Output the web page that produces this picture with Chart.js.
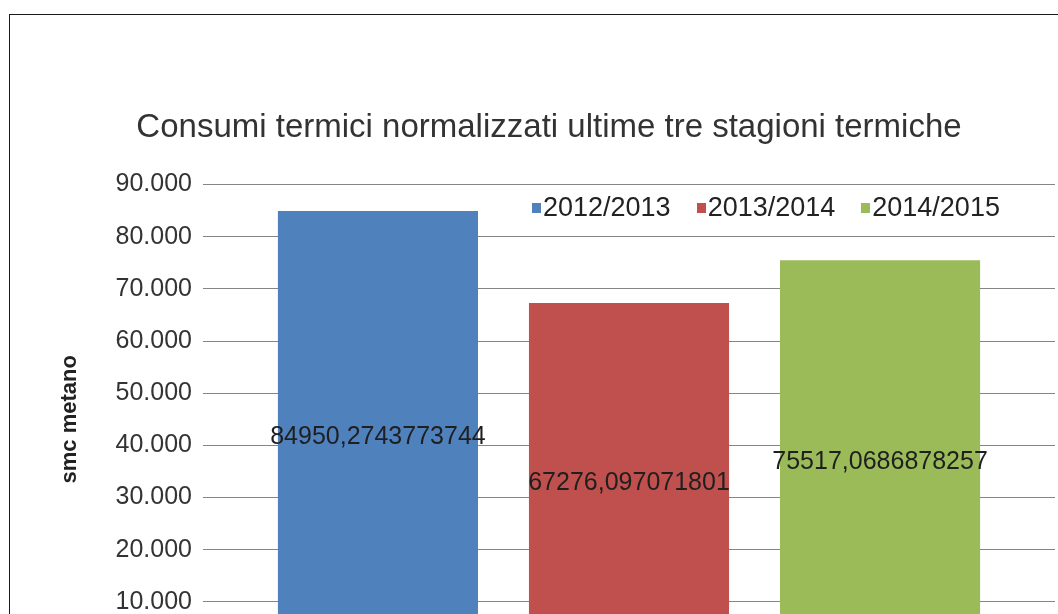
<!DOCTYPE html>
<html lang="it">
<head>
<meta charset="utf-8">
<title>Consumi termici normalizzati</title>
<script src="https://cdn.jsdelivr.net/npm/chart.js@4.4.1/dist/chart.umd.min.js"></script>
<style>
  html, body {
    margin: 0; padding: 0; background: #fff;
    width: 1058px; height: 614px; overflow: hidden;
  }
  /* outer frame, only top and left edges are visible */
  #frame {
    position: absolute; left: 9px; top: 14px;
    width: 1200px; height: 800px;
    border: 1px solid #1a1a1a;
  }
  /* chart is bigger than the window, the bottom and right get cropped */
  #wrap {
    position: absolute; left: 0; top: 0;
    width: 1098px; height: 680px;
  }
  #legend {
    position: absolute; left: 532px; top: 192px;
    display: flex; align-items: center;
    font: 27px 'Liberation Sans', Arial, sans-serif;
    color: #222;
  }
  #legend .item { display: flex; align-items: center; margin-right: 26px; }
  #legend .box  { width: 9px; height: 10px; margin-right: 2px; }
</style>
</head>
<body>
<div id="frame"></div>
<div id="wrap"><canvas id="chart"></canvas></div>
<div id="legend"></div>

<script>
// ── DATA ──
const CATEGORIES = [''];
const SEASONS    = ['2012/2013', '2013/2014', '2014/2015'];
const CONSUMI    = [84950.2743773744, 67276.097071801, 75517.0686878257];
const COLORS     = ['#4F81BD', '#C0504D', '#9BBB59'];
const Y_MIN  = 0;
const Y_MAX  = 90000;
const Y_STEP = 10000;

const FONT = "'Liberation Sans', Arial, sans-serif";
Chart.defaults.font.family = FONT;
Chart.defaults.color       = '#333';

// 90000 -> "90.000"
function fmtThousands(v) {
  return String(v).replace(/\B(?=(\d{3})+(?!\d))/g, '.');
}
// 84950.27 -> "84950,27"
function fmtDecimal(v) {
  return String(v).replace('.', ',');
}

// ── HELPER: value labels centred in each bar ──
const barLabels = {
  id: 'barLabels',
  afterDatasetsDraw(chart) {
    const ctx = chart.ctx;
    ctx.save();
    ctx.font         = '25px ' + FONT;
    ctx.fillStyle    = '#1f1f1f';
    ctx.textAlign    = 'center';
    ctx.textBaseline = 'middle';
    chart.data.datasets.forEach((ds, i) => {
      chart.getDatasetMeta(i).data.forEach((bar, j) => {
        ctx.fillText(fmtDecimal(ds.data[j]), bar.x, (bar.y + bar.base) / 2 + 5);
      });
    });
    ctx.restore();
  }
};

const datasets = SEASONS.map((name, i) => ({
  label:           name,
  data:            [CONSUMI[i]],
  backgroundColor: COLORS[i],
  borderWidth:     0,
  categoryPercentage: 0.884,
  barPercentage:      0.797,
}));

new Chart(document.getElementById('chart'), {
  type: 'bar',
  data: { labels: CATEGORIES, datasets },
  plugins: [barLabels],
  options: {
    responsive:          true,
    maintainAspectRatio: false,
    animation:           false,
    layout: { padding: { left: 43, right: 43, top: 0, bottom: 22 } },
    plugins: {
      legend:  { display: false },
      tooltip: { enabled: false },
      title: {
        display: true,
        text:    'Consumi termici normalizzati ultime tre stagioni termiche',
        color:   '#333',
        font:    { size: 33, weight: 'normal' },
        padding: { top: 108, bottom: 37 },
      },
    },
    scales: {
      x: { display: false },
      y: {
        min: Y_MIN,
        max: Y_MAX,
        afterFit: scale => { scale.width = 160; },
        border: { display: false },
        grid:   { color: '#858585', lineWidth: 1, drawTicks: false },
        ticks: {
          stepSize: Y_STEP,
          padding:  11,
          color:    '#333',
          font:     { size: 25 },
          callback: v => fmtThousands(v),
        },
        title: {
          display: true,
          text:    'smc metano',
          color:   '#222',
          font:    { size: 22, weight: 'bold' },
          padding: { top: 14, bottom: 0 },
        },
      },
    },
  },
});

// ── HTML LEGEND ──
const legendEl = document.getElementById('legend');
SEASONS.forEach((name, i) => {
  const item = document.createElement('div');
  item.className = 'item';
  const box = document.createElement('span');
  box.className = 'box';
  box.style.background = COLORS[i];
  const txt = document.createElement('span');
  txt.textContent = name;
  item.appendChild(box);
  item.appendChild(txt);
  legendEl.appendChild(item);
});
</script>
</body>
</html>
